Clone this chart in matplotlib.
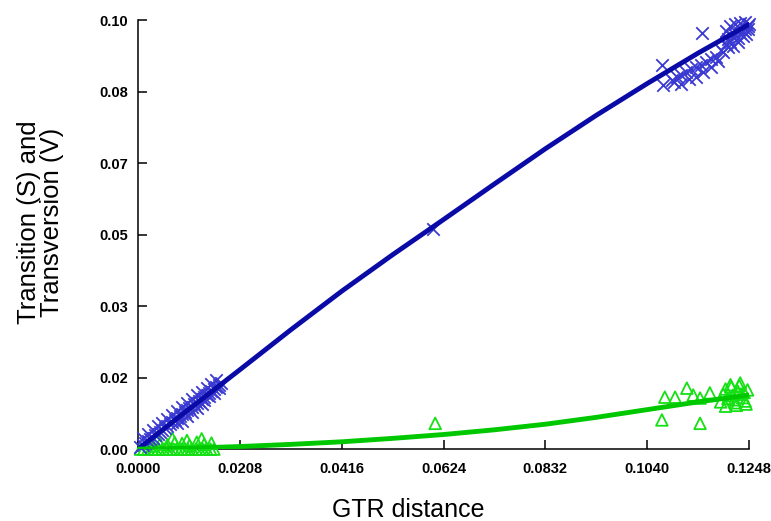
import matplotlib
matplotlib.use("Agg")
import matplotlib.pyplot as plt

plt.rcParams['font.family'] = ['Liberation Sans', 'DejaVu Sans']

# Axis ticks
x_ticks = [0.0, 0.0208, 0.0416, 0.0624, 0.0832, 0.1040, 0.1248]
x_tick_labels = ["0.0000", "0.0208", "0.0416", "0.0624", "0.0832", "0.1040", "0.1248"]
y_ticks = [0.0, 0.01667, 0.03333, 0.05, 0.06667, 0.08333, 0.1]
y_tick_labels = ["0.00", "0.02", "0.03", "0.05", "0.07", "0.08", "0.10"]

# Fitted curves
fit_x = [0.0, 0.0104, 0.0208, 0.0312, 0.0416, 0.0520, 0.0624, 0.0728, 0.0832, 0.0936, 0.1040, 0.1144, 0.1248]
fit_s = [0.0, 0.0093, 0.0185, 0.0278, 0.0368, 0.0453, 0.0535, 0.0618, 0.0700, 0.0778, 0.0852, 0.0923, 0.0990]
fit_v = [0.0, 0.0002, 0.0006, 0.0011, 0.0017, 0.0025, 0.0034, 0.0045, 0.0058, 0.0074, 0.0092, 0.0110, 0.0126]

# Transitions (S) – blue crosses
s_x = [0.0005, 0.0010, 0.0015, 0.0020, 0.0025, 0.0030, 0.0035, 0.0040, 0.0045, 0.0050,
       0.0055, 0.0060, 0.0065, 0.0070, 0.0075, 0.0080, 0.0085, 0.0090, 0.0095, 0.0100,
       0.0105, 0.0110, 0.0115, 0.0120, 0.0125, 0.0130, 0.0135, 0.0140, 0.0145, 0.0150,
       0.0155, 0.0160, 0.0165, 0.0170,
       0.0010, 0.0020, 0.0030, 0.0040, 0.0050, 0.0060, 0.0070, 0.0080, 0.0090, 0.0100,
       0.0110, 0.0120, 0.0130, 0.0140, 0.0150, 0.0160,
       0.0080, 0.0090, 0.0100, 0.0110, 0.0120, 0.0130, 0.0135, 0.0145, 0.0155, 0.0165,
       0.0603,
       0.1070, 0.1072, 0.1152,
       0.1090, 0.1100, 0.1110, 0.1120, 0.1130, 0.1140, 0.1150, 0.1160, 0.1170, 0.1180,
       0.1190, 0.1200, 0.1205, 0.1210, 0.1215, 0.1220, 0.1225, 0.1230, 0.1235, 0.1240,
       0.1245, 0.1248, 0.1200, 0.1210, 0.1220, 0.1230, 0.1240, 0.1245, 0.1215, 0.1225,
       0.1235, 0.1242, 0.1195, 0.1205,
       0.1095, 0.1110, 0.1125, 0.1140, 0.1155, 0.1170, 0.1185]
s_y = [0.0005, 0.0009, 0.0014, 0.0018, 0.0023, 0.0027, 0.0032, 0.0036, 0.0041, 0.0045,
       0.0050, 0.0054, 0.0059, 0.0063, 0.0068, 0.0072, 0.0077, 0.0081, 0.0086, 0.0090,
       0.0095, 0.0099, 0.0104, 0.0108, 0.0113, 0.0117, 0.0122, 0.0126, 0.0131, 0.0135,
       0.0140, 0.0144, 0.0149, 0.0153,
       0.0026, 0.0035, 0.0044, 0.0053, 0.0062, 0.0071, 0.0080, 0.0089, 0.0098, 0.0107,
       0.0116, 0.0125, 0.0134, 0.0143, 0.0152, 0.0161,
       0.0060, 0.0066, 0.0078, 0.0086, 0.0095, 0.0106, 0.0114, 0.0123, 0.0130, 0.0142,
       0.0513,
       0.0895, 0.0848, 0.0970,
       0.0860, 0.0868, 0.0872, 0.0880, 0.0885, 0.0890, 0.0895, 0.0902, 0.0910, 0.0915,
       0.0930, 0.0945, 0.0955, 0.0950, 0.0960, 0.0965, 0.0958, 0.0970, 0.0975, 0.0980,
       0.0985, 0.0990, 0.0975, 0.0985, 0.0990, 0.0992, 0.0995, 0.0978, 0.0940, 0.0948,
       0.0962, 0.0968, 0.0925, 0.0938,
       0.0855, 0.0850, 0.0862, 0.0868, 0.0880, 0.0890, 0.0905]

# Transversions (V) – green triangles
v_x = [0.0005, 0.0012, 0.0020, 0.0028, 0.0035, 0.0042, 0.0050, 0.0058, 0.0065, 0.0072,
       0.0080, 0.0088, 0.0095, 0.0102, 0.0110, 0.0118, 0.0125, 0.0132, 0.0140, 0.0148,
       0.0155, 0.0030, 0.0045, 0.0060, 0.0075, 0.0090, 0.0105, 0.0120, 0.0135, 0.0150,
       0.0040, 0.0070, 0.0100, 0.0130,
       0.0607,
       0.1070, 0.1148,
       0.1076, 0.1097, 0.1121, 0.1134, 0.1148, 0.1168,
       0.1190, 0.1195, 0.1200, 0.1205, 0.1210, 0.1215, 0.1220, 0.1225, 0.1230, 0.1235,
       0.1240, 0.1245, 0.1200, 0.1212, 0.1222, 0.1232, 0.1242, 0.1218, 0.1228, 0.1238]
v_y = [0.0000, 0.0000, 0.0000, 0.0000, 0.0000, 0.0000, 0.0000, 0.0000, 0.0000, 0.0000,
       0.0000, 0.0000, 0.0000, 0.0000, 0.0000, 0.0000, 0.0000, 0.0000, 0.0000, 0.0000,
       0.0000, 0.0008, 0.0012, 0.0010, 0.0015, 0.0013, 0.0009, 0.0016, 0.0011, 0.0014,
       0.0022, 0.0025, 0.0020, 0.0024,
       0.0060,
       0.0068, 0.0060,
       0.0121, 0.0121, 0.0142, 0.0126, 0.0119, 0.0131,
       0.0110, 0.0128, 0.0140, 0.0118, 0.0150, 0.0125, 0.0108, 0.0135, 0.0154, 0.0120,
       0.0112, 0.0138, 0.0100, 0.0145, 0.0102, 0.0128, 0.0105, 0.0115, 0.0148, 0.0132]

fig = plt.figure(figsize=(7.71, 5.21), dpi=100)
ax = fig.add_axes([0.179, 0.138, 0.7925, 0.8235])

ax.scatter(v_x, v_y, marker='^', s=70, facecolors='none', edgecolors='#14e014',
           linewidths=1.3, clip_on=False, zorder=3)
ax.scatter(s_x, s_y, marker='x', s=80, color='#3a3ad2', linewidths=1.3,
           clip_on=False, zorder=3)
ax.plot(fit_x, fit_s, color='#0a0aa6', lw=3.5, zorder=4, solid_capstyle='round')
ax.plot(fit_x, fit_v, color='#00c800', lw=3.5, zorder=4, solid_capstyle='round')

ax.set_xlim(0, 0.1248)
ax.set_ylim(0, 0.1)
ax.set_xticks(x_ticks)
ax.set_xticklabels(x_tick_labels)
ax.set_yticks(y_ticks)
ax.set_yticklabels(y_tick_labels)
ax.tick_params(direction='in', length=6.5, width=1.1, colors='black')
ax.tick_params(axis='x', labelsize=10.5, pad=9)
ax.tick_params(axis='y', labelsize=10.5, pad=7)
for lab in ax.get_xticklabels() + ax.get_yticklabels():
    lab.set_fontweight('bold')
ax.spines['top'].set_visible(False)
ax.spines['right'].set_visible(False)
for sp in ('left', 'bottom'):
    ax.spines[sp].set_linewidth(1.1)

fig.text(0.529, 0.022, "GTR distance", ha='center', va='center', fontsize=18)
fig.text(0.053, 0.574, "Transition (S) and\nTransversion (V)", ha='center', va='center',
         rotation=90, fontsize=18.5, linespacing=0.95)

fig.savefig("out.png", dpi=100)
